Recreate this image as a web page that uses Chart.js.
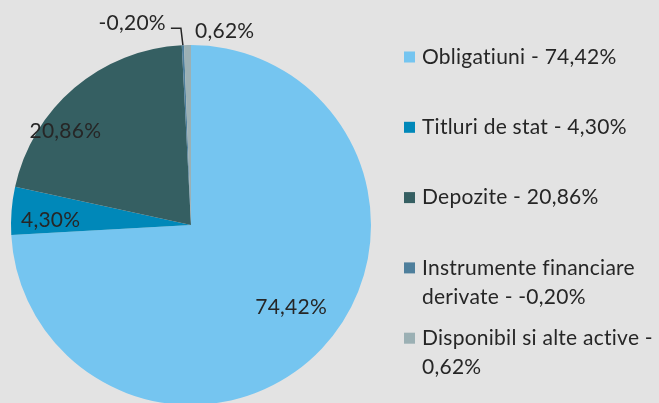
<!DOCTYPE html>
<html>
<head>
<meta charset="utf-8">
<title>Structura portofoliului</title>
<script src="https://cdn.jsdelivr.net/npm/chart.js@4/dist/chart.umd.min.js"></script>
<style>
    html, body { margin: 0; padding: 0; background: #e3e3e3; overflow: hidden; }
    #wrap { position: relative; width: 659px; height: 450px; }
</style>
</head>
<body>
<div id="wrap"><canvas id="pieChart"></canvas></div>
<script>
// Data
const categories = ['Obligatiuni', 'Titluri de stat', 'Depozite', 'Instrumente financiare derivate', 'Disponibil si alte active'];
const shares = [74.42, 4.30, 20.86, -0.20, 0.62];
const shareLabels = ['74,42%', '4,30%', '20,86%', '-0,20%', '0,62%'];
const sliceColors = ['#75c5f0', '#0088b9', '#355f62', '#4e7f9c', '#9bb0b4'];

// Style
const FONT = '21px Lato';
const TEXT_COLOR = '#262626';
const SPACING = '0.25px';

// Where each value label sits: fraction of radius + angle shift (deg), or a leader line
const labelPlacement = [
    { rf: 0.72, da: -4 },
    { rf: 0.78, da: -2.5 },
    { rf: 0.87, da: -13 },
    { leader: true },
    { rf: 1.09, da: 11 }
];

// Draw the percentage labels on/around the slices
const sliceLabels = {
    id: 'sliceLabels',
    afterDatasetsDraw(chart) {
        const ctx = chart.ctx;
        const arcs = chart.getDatasetMeta(0).data;
        ctx.save();
        ctx.font = FONT;
        ctx.letterSpacing = SPACING;
        ctx.fillStyle = TEXT_COLOR;
        ctx.strokeStyle = TEXT_COLOR;
        ctx.textBaseline = 'middle';
        arcs.forEach((arc, i) => {
            const p = labelPlacement[i];
            const mid = (arc.startAngle + arc.endAngle) / 2;
            if (p.leader) {
                const ex = arc.x + arc.outerRadius * Math.cos(mid);
                const ey = arc.y + arc.outerRadius * Math.sin(mid);
                const elbowY = ey - 17;
                ctx.lineWidth = 1.5;
                ctx.beginPath();
                ctx.moveTo(ex, ey);
                ctx.lineTo(ex - 2, elbowY);
                ctx.lineTo(ex - 12, elbowY);
                ctx.stroke();
                ctx.textAlign = 'right';
                ctx.fillText(shareLabels[i], ex - 17, elbowY - 5);
                return;
            }
            const a = mid + p.da * Math.PI / 180;
            const r = arc.outerRadius * p.rf;
            ctx.textAlign = 'center';
            ctx.fillText(shareLabels[i], arc.x + r * Math.cos(a), arc.y + r * Math.sin(a));
        });
        ctx.restore();
    }
};

// Legend on the right, wrapped like the original
function wrapText(ctx, text, maxWidth) {
    const words = text.split(' ');
    const lines = [];
    let line = '';
    words.forEach(w => {
        const test = line ? line + ' ' + w : w;
        if (line && ctx.measureText(test).width > maxWidth) {
            lines.push(line);
            line = w;
        } else {
            line = test;
        }
    });
    lines.push(line);
    return lines;
}

const sideLegend = {
    id: 'sideLegend',
    afterDraw(chart) {
        const ctx = chart.ctx;
        const left = 404, textX = 422, top = 57, step = 70.3, lineH = 29, box = 11;
        ctx.save();
        ctx.font = FONT;
        ctx.letterSpacing = SPACING;
        ctx.textBaseline = 'middle';
        ctx.textAlign = 'left';
        categories.forEach((cat, i) => {
            const y = top + i * step;
            ctx.fillStyle = sliceColors[i];
            ctx.fillRect(left, y - box / 2, box, box);
            ctx.fillStyle = TEXT_COLOR;
            const lines = wrapText(ctx, `${cat} - ${shareLabels[i]}`, 237);
            lines.forEach((ln, j) => ctx.fillText(ln, textX, y + j * lineH));
        });
        ctx.restore();
    }
};

new Chart(document.getElementById('pieChart'), {
    type: 'pie',
    data: {
        labels: categories,
        datasets: [{
            data: shares,
            backgroundColor: sliceColors,
            borderWidth: 0
        }]
    },
    options: {
        responsive: true,
        maintainAspectRatio: false,
        animation: false,
        layout: { padding: { left: 11, right: 288, top: 45, bottom: 45 } },
        plugins: {
            legend: { display: false },
            tooltip: { enabled: false }
        }
    },
    plugins: [sliceLabels, sideLegend]
});
</script>
</body>
</html>
